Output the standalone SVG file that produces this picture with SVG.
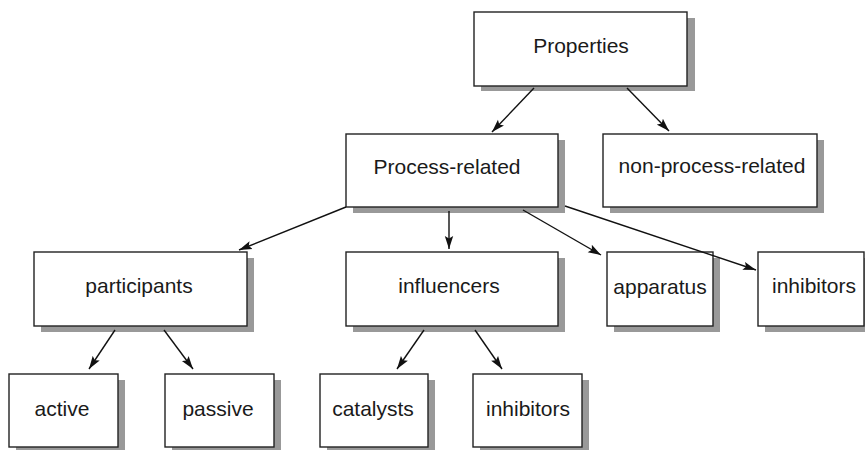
<svg xmlns="http://www.w3.org/2000/svg" width="865" height="450" viewBox="0 0 865 450">
<defs>
<style>
.shadow{fill:#999999;stroke:none}
.box{fill:#ffffff;stroke:#222222;stroke-width:1.4}
.lbl{font-family:"Liberation Sans",Arial,sans-serif;font-size:21px;fill:#1a1a1a;text-anchor:middle}
.edge{stroke:#111111;stroke-width:1.4;fill:none;marker-end:url(#arr)}
</style>
<marker id="arr" markerUnits="userSpaceOnUse" markerWidth="14" markerHeight="10" refX="13" refY="5" orient="auto">
<path d="M0,0.8 L13,5 L0,9.2 L2.5,5 Z" fill="#111111"/>
</marker>
</defs>
<rect width="865" height="450" fill="#ffffff"/>
<g id="properties">
<rect class="shadow" x="481" y="18" width="214" height="73"/>
<rect class="box" x="474" y="12" width="213" height="74"/>
<text class="lbl" x="581" y="53">Properties</text>
</g>
<g id="process-related">
<rect class="shadow" x="353" y="140" width="212" height="73"/>
<rect class="box" x="346" y="134" width="212" height="73"/>
<text class="lbl" x="447" y="174">Process-related</text>
</g>
<g id="non-process-related">
<rect class="shadow" x="610" y="140" width="214" height="73"/>
<rect class="box" x="603" y="134" width="214" height="73"/>
<text class="lbl" x="712" y="173">non-process-related</text>
</g>
<g id="participants">
<rect class="shadow" x="41" y="258" width="213" height="74"/>
<rect class="box" x="34" y="252" width="213" height="74"/>
<text class="lbl" x="139" y="293">participants</text>
</g>
<g id="influencers">
<rect class="shadow" x="353" y="258" width="212" height="74"/>
<rect class="box" x="346" y="252" width="212" height="74"/>
<text class="lbl" x="449" y="293">influencers</text>
</g>
<g id="apparatus">
<rect class="shadow" x="614" y="258" width="106" height="74"/>
<rect class="box" x="607" y="252" width="106" height="74"/>
<text class="lbl" x="660" y="294">apparatus</text>
</g>
<g id="inhibitors-top">
<rect class="shadow" x="765" y="258" width="106" height="74"/>
<rect class="box" x="758" y="252" width="106" height="74"/>
<text class="lbl" x="814" y="293">inhibitors</text>
</g>
<g id="active">
<rect class="shadow" x="16" y="380" width="109" height="73"/>
<rect class="box" x="9" y="374" width="109" height="73"/>
<text class="lbl" x="62" y="416">active</text>
</g>
<g id="passive">
<rect class="shadow" x="172" y="380" width="109" height="73"/>
<rect class="box" x="165" y="374" width="109" height="73"/>
<text class="lbl" x="218" y="416">passive</text>
</g>
<g id="catalysts">
<rect class="shadow" x="327" y="380" width="108" height="73"/>
<rect class="box" x="320" y="374" width="108" height="73"/>
<text class="lbl" x="373" y="416">catalysts</text>
</g>
<g id="inhibitors-bottom">
<rect class="shadow" x="480" y="380" width="109" height="73"/>
<rect class="box" x="473" y="374" width="109" height="73"/>
<text class="lbl" x="528" y="416">inhibitors</text>
</g>
<g id="connectors">
<line class="edge" x1="534" y1="88" x2="492" y2="132"/>
<line class="edge" x1="627" y1="88" x2="669" y2="131"/>
<line class="edge" x1="346" y1="207" x2="239" y2="250"/>
<line class="edge" x1="449" y1="211" x2="449" y2="249"/>
<line class="edge" x1="523" y1="210" x2="601" y2="255"/>
<line class="edge" x1="565" y1="206" x2="756" y2="270"/>
<line class="edge" x1="115" y1="330" x2="89" y2="369"/>
<line class="edge" x1="164" y1="330" x2="193" y2="369"/>
<line class="edge" x1="424" y1="330" x2="397" y2="369"/>
<line class="edge" x1="475" y1="330" x2="502" y2="369"/>
</g>
</svg>
